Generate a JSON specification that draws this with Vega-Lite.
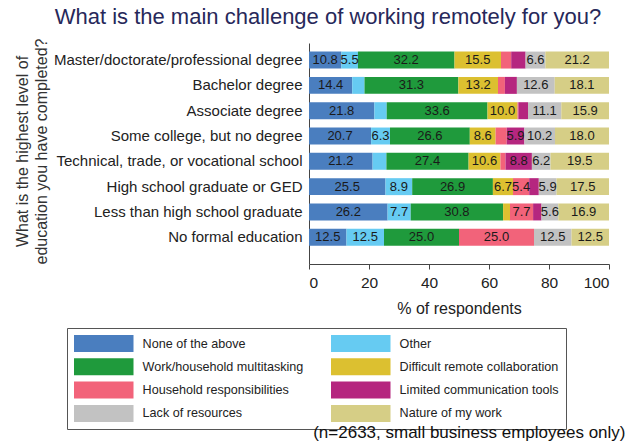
{
  "$schema": "https://vega.github.io/schema/vega-lite/v6.json",
  "padding": {"left": 14, "top": 6, "right": 6, "bottom": 0},
  "config": {"font": "Liberation Sans", "view": {"stroke": null}},
  "title": {"text": "(n=2633, small business employees only)", "orient": "bottom", "anchor": "end", "fontSize": 17, "fontWeight": "normal", "color": "#111", "offset": -5, "dx": 16},
  "resolve": {"legend": {"color": "independent"}},
  "vconcat": [
    {
      "width": 300,
      "height": 221,
      "title": {"text": "What is the main challenge of working remotely for you?", "fontSize": 22, "fontWeight": "normal", "color": "#27285a", "anchor": "middle", "dx": -131, "offset": 9},
      "data": {"values": [
        {"edu": "Master/doctorate/professional degree", "cat": "None of the above", "value": 10.8},
        {"edu": "Master/doctorate/professional degree", "cat": "Other", "value": 5.5},
        {"edu": "Master/doctorate/professional degree", "cat": "Work/household multitasking", "value": 32.2},
        {"edu": "Master/doctorate/professional degree", "cat": "Difficult remote collaboration", "value": 15.5},
        {"edu": "Master/doctorate/professional degree", "cat": "Household responsibilities", "value": 3.4},
        {"edu": "Master/doctorate/professional degree", "cat": "Limited communication tools", "value": 4.8},
        {"edu": "Master/doctorate/professional degree", "cat": "Lack of resources", "value": 6.6},
        {"edu": "Master/doctorate/professional degree", "cat": "Nature of my work", "value": 21.2},
        {"edu": "Bachelor degree", "cat": "None of the above", "value": 14.4},
        {"edu": "Bachelor degree", "cat": "Other", "value": 4.1},
        {"edu": "Bachelor degree", "cat": "Work/household multitasking", "value": 31.3},
        {"edu": "Bachelor degree", "cat": "Difficult remote collaboration", "value": 13.2},
        {"edu": "Bachelor degree", "cat": "Household responsibilities", "value": 2.3},
        {"edu": "Bachelor degree", "cat": "Limited communication tools", "value": 4.0},
        {"edu": "Bachelor degree", "cat": "Lack of resources", "value": 12.6},
        {"edu": "Bachelor degree", "cat": "Nature of my work", "value": 18.1},
        {"edu": "Associate degree", "cat": "None of the above", "value": 21.8},
        {"edu": "Associate degree", "cat": "Other", "value": 4.1},
        {"edu": "Associate degree", "cat": "Work/household multitasking", "value": 33.6},
        {"edu": "Associate degree", "cat": "Difficult remote collaboration", "value": 10.0},
        {"edu": "Associate degree", "cat": "Household responsibilities", "value": 0.3},
        {"edu": "Associate degree", "cat": "Limited communication tools", "value": 3.2},
        {"edu": "Associate degree", "cat": "Lack of resources", "value": 11.1},
        {"edu": "Associate degree", "cat": "Nature of my work", "value": 15.9},
        {"edu": "Some college, but no degree", "cat": "None of the above", "value": 20.7},
        {"edu": "Some college, but no degree", "cat": "Other", "value": 6.3},
        {"edu": "Some college, but no degree", "cat": "Work/household multitasking", "value": 26.6},
        {"edu": "Some college, but no degree", "cat": "Difficult remote collaboration", "value": 8.6},
        {"edu": "Some college, but no degree", "cat": "Household responsibilities", "value": 3.7},
        {"edu": "Some college, but no degree", "cat": "Limited communication tools", "value": 5.9},
        {"edu": "Some college, but no degree", "cat": "Lack of resources", "value": 10.2},
        {"edu": "Some college, but no degree", "cat": "Nature of my work", "value": 18.0},
        {"edu": "Technical, trade, or vocational school", "cat": "None of the above", "value": 21.2},
        {"edu": "Technical, trade, or vocational school", "cat": "Other", "value": 4.6},
        {"edu": "Technical, trade, or vocational school", "cat": "Work/household multitasking", "value": 27.4},
        {"edu": "Technical, trade, or vocational school", "cat": "Difficult remote collaboration", "value": 10.6},
        {"edu": "Technical, trade, or vocational school", "cat": "Household responsibilities", "value": 1.7},
        {"edu": "Technical, trade, or vocational school", "cat": "Limited communication tools", "value": 8.8},
        {"edu": "Technical, trade, or vocational school", "cat": "Lack of resources", "value": 6.2},
        {"edu": "Technical, trade, or vocational school", "cat": "Nature of my work", "value": 19.5},
        {"edu": "High school graduate or GED", "cat": "None of the above", "value": 25.5},
        {"edu": "High school graduate or GED", "cat": "Other", "value": 8.9},
        {"edu": "High school graduate or GED", "cat": "Work/household multitasking", "value": 26.9},
        {"edu": "High school graduate or GED", "cat": "Difficult remote collaboration", "value": 6.7},
        {"edu": "High school graduate or GED", "cat": "Household responsibilities", "value": 5.4},
        {"edu": "High school graduate or GED", "cat": "Limited communication tools", "value": 3.2},
        {"edu": "High school graduate or GED", "cat": "Lack of resources", "value": 5.9},
        {"edu": "High school graduate or GED", "cat": "Nature of my work", "value": 17.5},
        {"edu": "Less than high school graduate", "cat": "None of the above", "value": 26.2},
        {"edu": "Less than high school graduate", "cat": "Other", "value": 7.7},
        {"edu": "Less than high school graduate", "cat": "Work/household multitasking", "value": 30.8},
        {"edu": "Less than high school graduate", "cat": "Difficult remote collaboration", "value": 2.3},
        {"edu": "Less than high school graduate", "cat": "Household responsibilities", "value": 7.7},
        {"edu": "Less than high school graduate", "cat": "Limited communication tools", "value": 2.8},
        {"edu": "Less than high school graduate", "cat": "Lack of resources", "value": 5.6},
        {"edu": "Less than high school graduate", "cat": "Nature of my work", "value": 16.9},
        {"edu": "No formal education", "cat": "None of the above", "value": 12.5},
        {"edu": "No formal education", "cat": "Other", "value": 12.5},
        {"edu": "No formal education", "cat": "Work/household multitasking", "value": 25.0},
        {"edu": "No formal education", "cat": "Difficult remote collaboration", "value": 0},
        {"edu": "No formal education", "cat": "Household responsibilities", "value": 25.0},
        {"edu": "No formal education", "cat": "Limited communication tools", "value": 0},
        {"edu": "No formal education", "cat": "Lack of resources", "value": 12.5},
        {"edu": "No formal education", "cat": "Nature of my work", "value": 12.5}
      ]},
      "transform": [{"window": [{"op": "row_number", "as": "k"}], "groupby": ["edu"]}],
      "encoding": {
        "y": {
          "field": "edu", "type": "nominal",
          "sort": ["Master/doctorate/professional degree", "Bachelor degree", "Associate degree", "Some college, but no degree", "Technical, trade, or vocational school", "High school graduate or GED", "Less than high school graduate", "No formal education"],
          "scale": {"paddingInner": 0.33, "paddingOuter": 0.53, "align": 0.32},
          "axis": {
            "title": ["What is the highest level of", "education you have completed?"],
            "titleFontSize": 16, "titleFontWeight": "normal", "titleColor": "#333", "titleLineHeight": 19,
            "titleX": -279, "titleY": 108, "titleAngle": -90, "titleAlign": "center", "titleBaseline": "bottom",
            "labelFontSize": 15, "labelColor": "#222", "labelLimit": 400, "labelPadding": 7,
            "ticks": false, "domainColor": "#444"
          }
        },
        "order": {"field": "k", "type": "quantitative", "sort": "ascending"}
      },
      "layer": [
        {
          "mark": {"type": "bar"},
          "encoding": {
            "x": {
              "field": "value", "type": "quantitative", "stack": "zero",
              "scale": {"domain": [0, 100]},
              "axis": {
                "title": "% of respondents", "values": [0, 20, 40, 60, 80, 100],
                "grid": false, "tickSize": 5, "domainColor": "#444", "tickColor": "#444",
                "labelFontSize": 15.5, "labelColor": "#222", "labelPadding": 6,
                "titleFontSize": 16, "titleFontWeight": "normal", "titleColor": "#222", "titlePadding": 10
              }
            },
            "color": {
              "field": "cat", "type": "nominal",
              "scale": {
                "domain": ["None of the above", "Other", "Work/household multitasking", "Difficult remote collaboration", "Household responsibilities", "Limited communication tools", "Lack of resources", "Nature of my work"],
                "range": ["#4a7ebf", "#66cbf2", "#1f9a3c", "#dcc030", "#f2637a", "#b5267f", "#c2c2c2", "#d6ce86"]
              },
              "legend": {
                "title": null, "orient": "none", "legendX": -242, "legendY": 285,
                "direction": "horizontal", "columns": 2, "columnPadding": 27, "rowPadding": 6.3,
                "padding": 7, "strokeColor": "#555",
                "symbolType": "M-1,-1L6,-1L6,1L-1,1Z", "symbolSize": 289,
                "symbolStrokeWidth": 0, "symbolOpacity": 1,
                "labelFontSize": 12.6, "labelColor": "#222", "labelOffset": 51.6, "labelLimit": 300
              }
            }
          }
        },
        {
          "mark": {"type": "text", "fontSize": 13, "color": "#1a1a1a"},
          "encoding": {
            "x": {"field": "value", "type": "quantitative", "stack": "zero", "bandPosition": 0.5},
            "detail": {"field": "cat", "type": "nominal"},
            "text": {"condition": {"test": "datum.value > 5", "field": "value", "type": "quantitative", "format": ".1f"}, "value": ""}
          }
        }
      ]
    }
  ]
}
